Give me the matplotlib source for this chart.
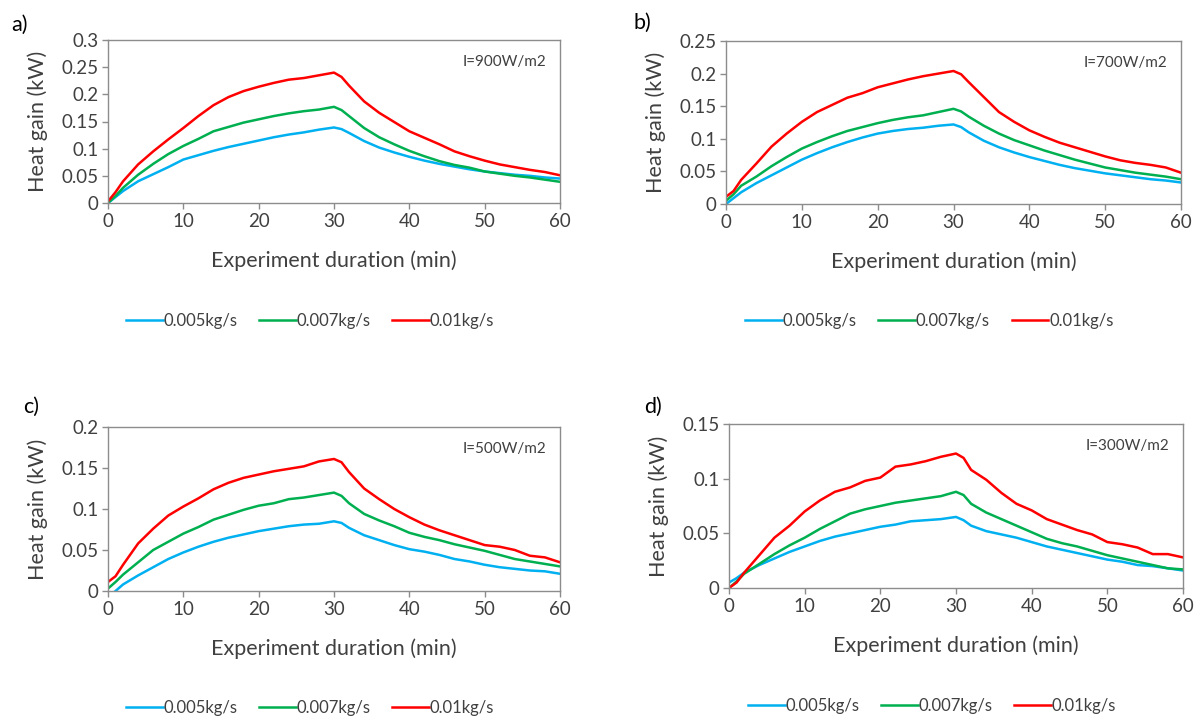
import matplotlib.pyplot as plt
import numpy as np

plt.rcParams['font.family'] = ['Lato', 'DejaVu Sans']

# time axis (min), shared by all series
t = [0, 1, 2, 4, 6, 8, 10, 12, 14, 16, 18, 20, 22, 24, 26, 28, 30, 31, 32,
     34, 36, 38, 40, 42, 44, 46, 48, 50, 52, 54, 56, 58, 60]

labels = ['0.005kg/s', '0.007kg/s', '0.01kg/s']
colors = ['#00B0F0', '#00B050', '#FF0000']

# a) I=900W/m2
a_005 = [0, 0.011, 0.022, 0.04, 0.053, 0.066, 0.08, 0.088, 0.096, 0.103, 0.109, 0.115,
         0.121, 0.126, 0.13, 0.135, 0.139, 0.136, 0.129, 0.114, 0.102, 0.093, 0.085,
         0.078, 0.072, 0.067, 0.062, 0.058, 0.055, 0.052, 0.05, 0.047, 0.045]
a_007 = [0, 0.013, 0.028, 0.052, 0.072, 0.09, 0.105, 0.118, 0.132, 0.14, 0.148, 0.154,
         0.16, 0.165, 0.169, 0.172, 0.177, 0.171, 0.16, 0.138, 0.121, 0.108, 0.096,
         0.086, 0.077, 0.07, 0.065, 0.058, 0.054, 0.05, 0.047, 0.043, 0.039]
a_010 = [0.003, 0.02, 0.04, 0.071, 0.095, 0.117, 0.138, 0.16, 0.18, 0.195, 0.206, 0.214,
         0.221, 0.227, 0.23, 0.235, 0.24, 0.232, 0.216, 0.187, 0.166, 0.149, 0.132,
         0.12, 0.108, 0.095, 0.086, 0.078, 0.071, 0.066, 0.061, 0.057, 0.051]

# b) I=700W/m2
b_005 = [0, 0.009, 0.018, 0.032, 0.044, 0.056, 0.068, 0.078, 0.087, 0.095, 0.102, 0.108,
         0.112, 0.115, 0.117, 0.12, 0.122, 0.118, 0.11, 0.097, 0.087, 0.079, 0.072,
         0.066, 0.06, 0.055, 0.051, 0.047, 0.044, 0.041, 0.038, 0.036, 0.033]
b_007 = [0.005, 0.015, 0.028, 0.042, 0.058, 0.072, 0.085, 0.095, 0.104, 0.112, 0.118, 0.124,
         0.129, 0.133, 0.136, 0.141, 0.146, 0.142, 0.134, 0.12, 0.108, 0.098, 0.09,
         0.082, 0.075, 0.068, 0.062, 0.056, 0.052, 0.048, 0.045, 0.042, 0.038]
b_010 = [0.011, 0.02, 0.037, 0.062, 0.088, 0.108, 0.126, 0.141, 0.152, 0.163, 0.17, 0.179,
         0.185, 0.191, 0.196, 0.2, 0.204, 0.199, 0.187, 0.164, 0.141, 0.126, 0.113,
         0.103, 0.094, 0.087, 0.08, 0.073, 0.067, 0.063, 0.06, 0.056, 0.048]

# c) I=500W/m2
c_005 = [np.nan, 0.0, 0.008, 0.019, 0.029, 0.039, 0.047, 0.054, 0.06, 0.065, 0.069, 0.073,
         0.076, 0.079, 0.081, 0.082, 0.085, 0.083, 0.077, 0.068, 0.062, 0.056, 0.051,
         0.048, 0.044, 0.039, 0.036, 0.032, 0.029, 0.027, 0.025, 0.024, 0.021]
c_007 = [0.003, 0.011, 0.02, 0.035, 0.05, 0.06, 0.07, 0.078, 0.087, 0.093, 0.099, 0.104,
         0.107, 0.112, 0.114, 0.117, 0.12, 0.116, 0.107, 0.094, 0.086, 0.079, 0.071,
         0.066, 0.062, 0.057, 0.053, 0.049, 0.044, 0.039, 0.036, 0.033, 0.03]
c_010 = [0.011, 0.018, 0.032, 0.058, 0.076, 0.092, 0.103, 0.113, 0.124, 0.132, 0.138, 0.142,
         0.146, 0.149, 0.152, 0.158, 0.161, 0.157, 0.145, 0.125, 0.112, 0.1, 0.09,
         0.081, 0.074, 0.068, 0.062, 0.056, 0.054, 0.05, 0.043, 0.041, 0.035]

# d) I=300W/m2
d_005 = [0.005, 0.009, 0.014, 0.021, 0.027, 0.033, 0.038, 0.043, 0.047, 0.05, 0.053, 0.056,
         0.058, 0.061, 0.062, 0.063, 0.065, 0.062, 0.057, 0.052, 0.049, 0.046, 0.042,
         0.038, 0.035, 0.032, 0.029, 0.026, 0.024, 0.021, 0.02, 0.018, 0.016]
d_007 = [0, 0.006, 0.013, 0.022, 0.031, 0.039, 0.046, 0.054, 0.061, 0.068, 0.072, 0.075,
         0.078, 0.08, 0.082, 0.084, 0.088, 0.085, 0.077, 0.069, 0.063, 0.057, 0.051,
         0.045, 0.041, 0.038, 0.034, 0.03, 0.027, 0.024, 0.021, 0.018, 0.017]
d_010 = [0, 0.005, 0.014, 0.03, 0.046, 0.057, 0.07, 0.08, 0.088, 0.092, 0.098, 0.101,
         0.111, 0.113, 0.116, 0.12, 0.123, 0.119, 0.108, 0.099, 0.087, 0.077, 0.071,
         0.063, 0.058, 0.053, 0.049, 0.042, 0.04, 0.037, 0.031, 0.031, 0.028]

panels = [
    ('a)', 'I=900W/m2', [a_005, a_007, a_010], 0.3),
    ('b)', 'I=700W/m2', [b_005, b_007, b_010], 0.25),
    ('c)', 'I=500W/m2', [c_005, c_007, c_010], 0.2),
    ('d)', 'I=300W/m2', [d_005, d_007, d_010], 0.15),
]

W, H = 1195, 717
fig = plt.figure(figsize=(W / 100, H / 100), dpi=100)

# axes boxes in pixels: left, top, right, bottom
boxes = [(108, 40, 560, 203), (726, 41, 1181, 204),
         (108, 427, 560, 591), (729, 424, 1183, 588)]
tag_pos = [(20, 25), (642, 23), (31, 407), (653, 407)]
legend_y = [321, 321, 708, 706]

txt = '#404040'
for (tag, note, series, ymax), (l, tp, r, b), (tx, ty), ly in zip(
        panels, boxes, tag_pos, legend_y):
    ax = fig.add_axes([l / W, 1 - b / H, (r - l) / W, (b - tp) / H])
    for y, c, lab in zip(series, colors, labels):
        ax.plot(t, y, color=c, lw=1.8, label=lab)
    ax.set_xlim(0, 60)
    ax.set_ylim(0, ymax)
    ax.set_xticks(range(0, 61, 10))
    yt = np.arange(0, ymax + 1e-9, 0.05)
    ax.set_yticks(yt)
    ax.set_yticklabels(['{:g}'.format(round(v, 2)) for v in yt])
    for s in ax.spines.values():
        s.set_color('#8c8c8c')
        s.set_linewidth(1.0)
    ax.tick_params(direction='out', length=4, width=1, color='#8c8c8c',
                   labelsize=13.5, labelcolor=txt, pad=3)
    ax.set_xlabel('Experiment duration (min)', fontsize=15.5, color=txt, va='center')
    ax.set_ylabel('Heat gain (kW)', fontsize=15.5, color=txt, va='center')
    ax.xaxis.set_label_coords(0.5, -58 / (b - tp))
    ax.yaxis.set_label_coords(-70 / (r - l), 0.5)
    ax.text(0.97, 0.865, note, transform=ax.transAxes, ha='right', va='center',
            fontsize=11, color=txt)
    fig.text(tx / W, 1 - ty / H, tag, ha='center', va='center', fontsize=15.5, color='black')
    cx = (l + 0.447 * (r - l)) / W
    ax.legend(loc='center', bbox_to_anchor=(cx, 1 - ly / H), bbox_transform=fig.transFigure,
              ncol=3, frameon=False, fontsize=12, handlelength=2.2, handletextpad=0.05,
              columnspacing=1.3, labelcolor=txt)

fig.savefig('out.png', dpi=100)
